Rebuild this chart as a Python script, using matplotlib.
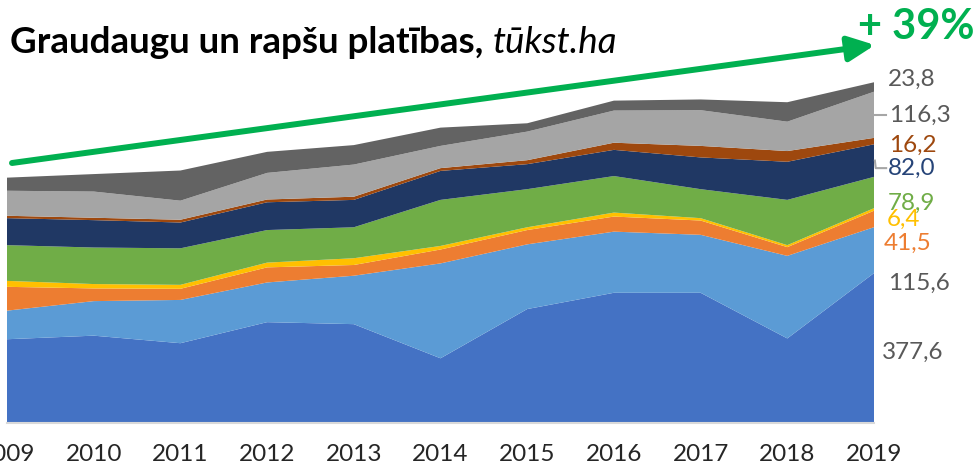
import matplotlib
matplotlib.use("Agg")
import matplotlib.pyplot as plt
import numpy as np

years = [2009, 2010, 2011, 2012, 2013, 2014, 2015, 2016, 2017, 2018, 2019]
s_dblue = [211, 220, 201, 254, 249, 163, 287, 328, 328, 213, 377.6]
s_lblue = [72, 87, 109, 100, 122, 239, 163, 154, 146, 208, 115.6]
s_orange = [60, 32, 28, 38, 27, 35, 36, 38, 36, 22, 41.5]
s_yellow = [15, 11, 10, 12, 17, 9, 7, 10, 6, 5, 6.4]
s_green = [90, 92, 92, 82, 78, 116, 96, 92, 73, 114, 78.9]
s_navy = [68, 69, 65, 70, 69, 73, 63, 66, 80, 96, 82.0]
s_brown = [6, 6, 7, 7, 8, 7, 10, 18, 29, 27, 16.2]
s_lgray = [63, 66, 48, 67, 81, 56, 72, 81, 90, 74, 116.3]
s_dgray = [33, 44, 76, 53, 49, 46, 21, 25, 27, 49, 23.8]

series = [s_dblue, s_lblue, s_orange, s_yellow, s_green, s_navy, s_brown, s_lgray, s_dgray]
colors = ["#4472C4", "#5B9BD5", "#ED7D31", "#FFC000", "#70AD47", "#203864", "#9E480E", "#A5A5A5", "#636363"]
label_colors = ["#595959", "#595959", "#ED7D31", "#FFC000", "#70AD47", "#264478", "#9E480E", "#595959", "#595959"]
end_labels = ["377,6", "115,6", "41,5", "6,4", "78,9", "82,0", "16,2", "116,3", "23,8"]
label_y = [179, 353, 453, 514, 554, 642, 700, 776, 866]
label_dx = [8, 14, 10, 13, 14, 14, 15, 15, 14]

title_bold = "Graudaugu un rapšu platības, "
title_ital = "tūkst.ha"
growth = "+ 39%"

FONT = ["Lato", "DejaVu Sans"]
plt.rcParams['font.family'] = FONT

W, H = 978, 466
fig = plt.figure(figsize=(W / 100, H / 100), dpi=100)
x0, x1 = 7, 874
base_y = 423
scale = 0.397
ymax = 1000
ax = fig.add_axes([x0 / W, (H - base_y) / H, (x1 - x0) / W, ymax * scale / H])
ax.stackplot(years, *series, colors=colors, linewidth=0)
ax.set_xlim(years[0], years[-1])
ax.set_ylim(0, ymax)
for sp in ["top", "left", "right"]:
    ax.spines[sp].set_visible(False)
ax.spines["bottom"].set_color("#D9D9D9")
ax.spines["bottom"].set_linewidth(1.5)
ax.set_yticks([])
ax.set_xticks(years)
ax.set_xticklabels([str(y) for y in years])
ax.tick_params(axis="x", length=0, pad=15, labelsize=17.5, labelcolor="#262626")
ax.patch.set_alpha(0)

# end labels
cum = np.cumsum([s[-1] for s in series])
for i, (lab, ly) in enumerate(zip(end_labels, label_y)):
    ax.annotate(lab, xy=(years[-1], ly), xycoords="data", xytext=(label_dx[i] * 0.72, 0),
                textcoords="offset points", ha="left", va="center",
                fontsize=17.5, color=label_colors[i], annotation_clip=False)

# leader lines for 116,3 and 82,0
lower = np.concatenate([[0], cum[:-1]])
mid_lg = (lower[7] + cum[7]) / 2
mid_nv = (lower[5] + cum[5]) / 2
ax.plot([years[-1] + 0.005, years[-1] + 0.14], [mid_lg, mid_lg], color="#A6A6A6", lw=1.5, clip_on=False)
ax.plot([years[-1] + 0.01, years[-1] + 0.02, years[-1] + 0.14], [mid_nv, label_y[5], label_y[5]],
        color="#A6A6A6", lw=1.5, clip_on=False)

# Title
t1 = fig.text(10 / W, 1 - 53 / H, title_bold, fontsize=26.5, fontweight="bold", color="#000000",
              ha="left", va="baseline")
fig.canvas.draw()
r = fig.canvas.get_renderer()
bb = t1.get_window_extent(renderer=r)
fig.text(bb.x1 / W, 1 - 53 / H, title_ital, fontsize=26.5, fontstyle="italic", color="#000000",
         ha="left", va="baseline")

# growth arrow
fig.patches.append(matplotlib.patches.FancyArrowPatch(
    (12 / W, 1 - 163 / H), (875 / W, 1 - 45 / H), transform=fig.transFigure,
    arrowstyle="-|>,head_length=1.6,head_width=0.75", mutation_scale=10,
    color="#00B050", linewidth=4.3, shrinkA=0, shrinkB=0))
fig.text(975 / W, 1 - 39 / H, growth, fontsize=30, fontweight="bold", color="#00B050",
         ha="right", va="baseline")

fig.savefig("out.png", dpi=100)
